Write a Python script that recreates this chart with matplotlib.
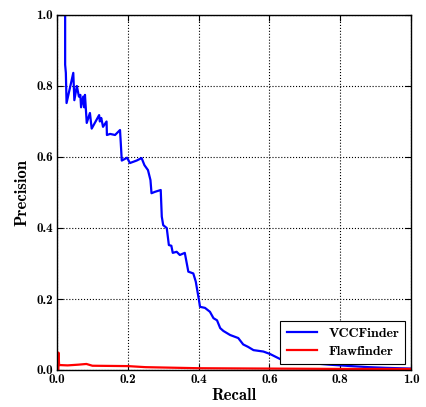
import matplotlib
matplotlib.use("Agg")
import matplotlib.pyplot as plt

vcc_recall = [0.0, 0.023, 0.023, 0.025, 0.027, 0.046, 0.049, 0.056, 0.062, 0.066, 0.068, 0.074, 0.077, 0.079,
              0.084, 0.093, 0.098, 0.119, 0.121, 0.125, 0.130, 0.140, 0.141, 0.150, 0.164, 0.178, 0.180, 0.183,
              0.198, 0.206, 0.225, 0.239, 0.247, 0.257, 0.264, 0.267, 0.277, 0.293, 0.296, 0.300, 0.310, 0.316,
              0.323, 0.327, 0.338, 0.347, 0.361, 0.371, 0.385, 0.392, 0.401, 0.404, 0.418, 0.432, 0.442, 0.452,
              0.461, 0.470, 0.489, 0.512, 0.526, 0.540, 0.555, 0.583, 0.602, 0.630, 0.660, 0.690, 0.720, 0.770,
              0.830, 0.880, 0.930, 1.0]
vcc_precision = [1.0, 1.0, 0.86, 0.837, 0.752, 0.837, 0.76, 0.80, 0.77, 0.775, 0.74, 0.77, 0.74, 0.775,
                 0.696, 0.724, 0.68, 0.718, 0.70, 0.71, 0.685, 0.70, 0.662, 0.665, 0.662, 0.676, 0.642, 0.59,
                 0.598, 0.583, 0.590, 0.597, 0.577, 0.563, 0.535, 0.498, 0.502, 0.507, 0.432, 0.408, 0.40, 0.352,
                 0.35, 0.33, 0.333, 0.324, 0.330, 0.277, 0.272, 0.249, 0.197, 0.178, 0.175, 0.164, 0.146, 0.14,
                 0.118, 0.11, 0.0986, 0.09, 0.072, 0.065, 0.056, 0.052, 0.045, 0.031, 0.025, 0.021, 0.019, 0.015,
                 0.011, 0.008, 0.006, 0.004]

flaw_recall = [0.004, 0.004, 0.006, 0.03, 0.06, 0.083, 0.10, 0.2, 0.25, 0.3, 0.4, 0.6, 0.8, 1.0]
flaw_precision = [0.0, 0.049, 0.014, 0.013, 0.015, 0.017, 0.012, 0.011, 0.008, 0.007, 0.005, 0.004, 0.003, 0.003]

ticks = [0.0, 0.2, 0.4, 0.6, 0.8, 1.0]
tick_labels = ["0.0", "0.2", "0.4", "0.6", "0.8", "1.0"]

plt.rcParams['font.family'] = ['cmb10', 'DejaVu Serif']
plt.rcParams['axes.unicode_minus'] = False

fig = plt.figure(figsize=(4.27, 4.07), dpi=100)
ax = fig.add_axes([57/427, 37/407, 354/427, 355/407])

ax.plot(vcc_recall, vcc_precision, color='#0000ff', lw=1.6, label='VCCFinder')
ax.plot(flaw_recall, flaw_precision, color='#ff0000', lw=1.6, label='Flawfinder')

ax.set_xlim(0, 1)
ax.set_ylim(0, 1)
ax.set_xticks(ticks)
ax.set_xticklabels(tick_labels)
ax.set_yticks(ticks)
ax.set_yticklabels(tick_labels)
ax.tick_params(direction='in', top=True, right=True, length=4, labelsize=9.5, pad=3, width=0.8)
ax.grid(True, linestyle=':', color='black', linewidth=0.8)
for s in ax.spines.values():
    s.set_linewidth(1.0)

ax.set_xlabel('Recall', fontsize=12, labelpad=1)
ax.set_ylabel('Precision', fontsize=12, labelpad=5)

leg = ax.legend(loc='lower right', fontsize=10, fancybox=False, framealpha=1, edgecolor='black',
                handlelength=2.2, borderaxespad=0.4, borderpad=0.45, labelspacing=0.4)
leg.get_frame().set_linewidth(0.8)

fig.savefig('out.png', dpi=100)
